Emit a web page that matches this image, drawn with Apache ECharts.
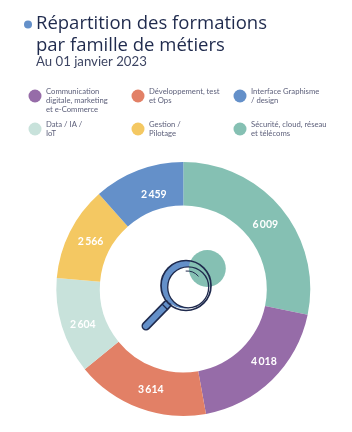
<!DOCTYPE html>
<html>
<head>
<meta charset="utf-8">
<style>
  html, body { margin: 0; padding: 0; background: #fff; }
  #main { width: 352px; height: 432px; }
</style>
<script src="https://cdn.jsdelivr.net/npm/echarts@6/dist/echarts.min.js"></script>
</head>
<body>
<div id="main"></div>
<script>
  var categories = ['Sécurité, cloud, réseau\net télécoms', 'Communication\ndigitale, marketing\net e-Commerce', 'Développement, test\net Ops', 'Data / IA /\nIoT', 'Gestion /\nPilotage', 'Interface Graphisme\n/ design'];
  var values = [6009, 4018, 3614, 2604, 2566, 2459];
  var colors = ['#85c0b3', '#966ca8', '#e28066', '#c8e2db', '#f4c862', '#6490c9'];
  // ordre de la légende (lignes de 3)
  var legendOrder = [1, 2, 5, 3, 4, 0];
  // petits décalages des étiquettes, posées à la main sur l'original
  var labelShift = [[-2, 4], [5, -5], [5, -1], [3, 4], [4, 1], [9, 7]];

  var fontName = 'Lato';
  var dark = '#1f2a4d';
  var blue = '#6490c9';
  var green = '#85c0b3';

  var legendX = [35, 138, 240];
  var legendY = [96, 129];
  var graphics = [];

  graphics.push({ type: 'circle', shape: { cx: 28, cy: 24.5, r: 4 }, style: { fill: blue } });
  graphics.push({ type: 'text', x: 36, y: 13, style: { text: 'Répartition des formations\npar famille de métiers', font: '500 18.5px "Open Sans"', lineHeight: 21.5, fill: dark } });
  graphics.push({ type: 'text', x: 36, y: 55, style: { text: 'Au 01 janvier 2023', font: '400 13.2px ' + fontName, fill: '#3d4563' } });

  legendOrder.forEach(function (idx, i) {
    var cx = legendX[i % 3];
    var cy = legendY[Math.floor(i / 3)];
    graphics.push({ type: 'circle', shape: { cx: cx, cy: cy, r: 6.5 }, style: { fill: colors[idx] } });
    graphics.push({ type: 'text', x: cx + 11, y: cy - 9, style: { text: categories[idx], font: '400 7.7px ' + fontName, lineHeight: 9, fill: '#5c5f7a' } });
  });

  // loupe au centre
  var lx = 186, ly = 285.5;
  graphics.push({ type: 'line', shape: { x1: 167, y1: 304.5, x2: 146, y2: 326 }, style: { stroke: dark, lineWidth: 9, lineCap: 'round' } });
  graphics.push({ type: 'line', shape: { x1: 167, y1: 304.5, x2: 146, y2: 326 }, style: { stroke: blue, lineWidth: 6, lineCap: 'round' } });
  graphics.push({ type: 'line', shape: { x1: 162, y1: 304, x2: 168, y2: 310 }, style: { stroke: dark, lineWidth: 1.2 } });
  graphics.push({ type: 'circle', shape: { cx: lx - 1, cy: ly - 1, r: 24 }, style: { fill: blue } });
  graphics.push({ type: 'circle', shape: { cx: lx + 2.2, cy: ly + 1.8, r: 20.5 }, style: { fill: '#fff' } });
  graphics.push({ type: 'circle', shape: { cx: 207.3, cy: 268.5, r: 18.5 }, style: { fill: green } });
  graphics.push({ type: 'circle', shape: { cx: lx, cy: ly, r: 25 }, style: { fill: 'none', stroke: dark, lineWidth: 1.7 } });
  graphics.push({ type: 'circle', shape: { cx: lx + 2.2, cy: ly + 1.8, r: 20.5 }, style: { fill: 'none', stroke: dark, lineWidth: 1.3 } });
  graphics.push({ type: 'arc', shape: { cx: 187, cy: 286, r: 15, startAngle: -95 * Math.PI / 180, endAngle: -40 * Math.PI / 180 }, style: { fill: 'none', stroke: dark, lineWidth: 1 } });

  var chart = echarts.init(document.getElementById('main'));
  chart.setOption({
    animation: false,
    backgroundColor: '#fff',
    series: [{
      type: 'pie',
      center: [183.3, 289],
      radius: [83.5, 127],
      startAngle: 90,
      clockwise: true,
      silent: true,
      data: values.map(function (v, i) {
        return { name: categories[i], value: v, itemStyle: { color: colors[i] } };
      }),
      label: {
        show: true,
        position: 'inside',
        color: '#fff',
        fontFamily: fontName,
        fontWeight: 700,
        fontSize: 10.5,
        formatter: function (p) {
          return String(p.value).replace(/\B(?=(\d{3})+$)/g, '\u2009');
        }
      },
      labelLayout: function (p) {
        return { dx: labelShift[p.dataIndex][0], dy: labelShift[p.dataIndex][1] };
      },
      labelLine: { show: false }
    }],
    graphic: graphics
  });
</script>
</body>
</html>
